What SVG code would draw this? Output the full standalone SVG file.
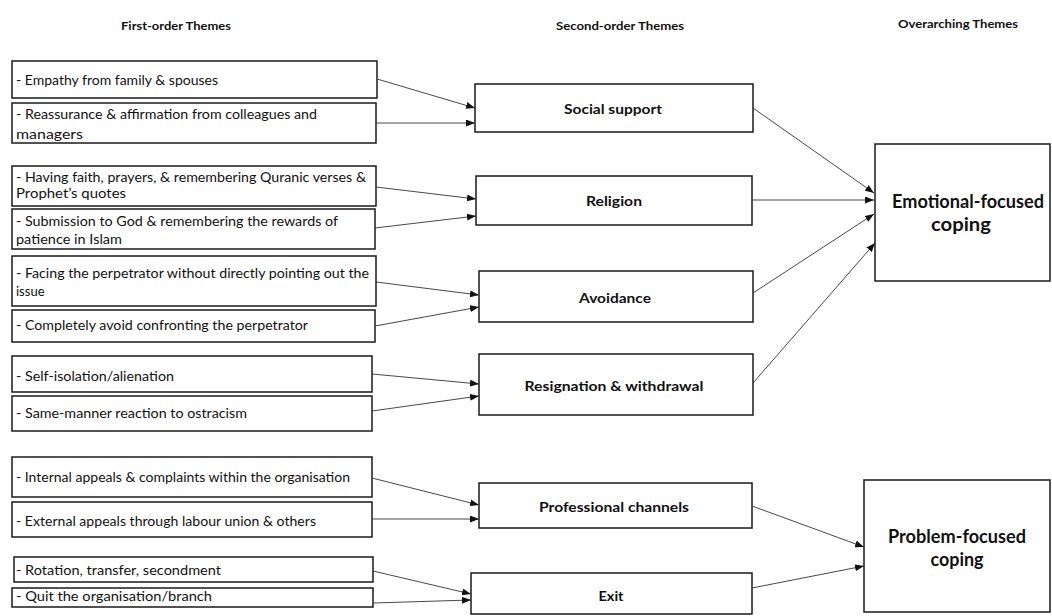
<svg xmlns="http://www.w3.org/2000/svg" width="1052" height="616" viewBox="0 0 1052 616">
  <style>
    .box { fill: #ffffff; stroke: #1a1a1a; stroke-width: 1.5; }
    .hdr { font-family: Lato, "Open Sans", sans-serif; font-weight: bold; font-size: 12px; fill: #111; text-anchor: middle; }
    .item { font-family: Lato, "Noto Sans", sans-serif; font-size: 13px; fill: #111; }
    .mid { font-family: Lato, "Noto Sans", sans-serif; font-weight: bold; font-size: 14px; fill: #111; text-anchor: middle; }
    .top { font-family: Lato, "Noto Sans", sans-serif; font-weight: bold; font-size: 18px; fill: #111; text-anchor: middle; }
    .link { stroke: #333; stroke-width: 0.9; fill: none; marker-end: url(#arrow); }
  </style>
  <defs>
    <marker id="arrow" markerUnits="userSpaceOnUse" markerWidth="9" markerHeight="7" refX="9" refY="3.5" orient="auto">
      <path d="M0,0 L9,3.5 L0,7 Z" fill="#111"/>
    </marker>
  </defs>
  <rect width="1052" height="616" fill="#ffffff"/>

  <!-- column headings -->
  <g id="headers">
    <text class="hdr" x="176" y="30" textLength="110" lengthAdjust="spacingAndGlyphs">First-order Themes</text>
    <text class="hdr" x="620" y="30" textLength="128" lengthAdjust="spacingAndGlyphs">Second-order Themes</text>
    <text class="hdr" x="958" y="28" textLength="120" lengthAdjust="spacingAndGlyphs">Overarching Themes</text>
  </g>

  <!-- first-order themes -->
  <g id="n-empathy">
    <rect class="box" x="12" y="61" width="365" height="37"/>
    <text class="item" x="16" y="85" textLength="202" lengthAdjust="spacingAndGlyphs">- Empathy from family &amp; spouses</text>
  </g>
  <g id="n-reassurance">
    <rect class="box" x="12" y="103" width="364" height="40"/>
    <text class="item" x="16" y="119" textLength="301" lengthAdjust="spacingAndGlyphs">- Reassurance &amp; affirmation from colleagues and</text>
    <text class="item" x="16" y="139" textLength="67" lengthAdjust="spacingAndGlyphs">managers</text>
  </g>
  <g id="n-faith">
    <rect class="box" x="12" y="166" width="364" height="40"/>
    <text class="item" x="16" y="182" textLength="350" lengthAdjust="spacingAndGlyphs">- Having faith, prayers, &amp; remembering Quranic verses &amp;</text>
    <text class="item" x="16" y="198" textLength="110" lengthAdjust="spacingAndGlyphs">Prophet’s quotes</text>
  </g>
  <g id="n-submission">
    <rect class="box" x="12" y="209" width="363" height="40"/>
    <text class="item" x="16" y="226" textLength="322" lengthAdjust="spacingAndGlyphs">- Submission to God &amp; remembering the rewards of</text>
    <text class="item" x="16" y="244" textLength="106" lengthAdjust="spacingAndGlyphs">patience in Islam</text>
  </g>
  <g id="n-facing">
    <rect class="box" x="12" y="256" width="364" height="50"/>
    <text class="item" x="16" y="278" textLength="353" lengthAdjust="spacingAndGlyphs">- Facing the perpetrator without directly pointing out the</text>
    <text class="item" x="16" y="296">issue</text>
  </g>
  <g id="n-avoid">
    <rect class="box" x="12" y="310" width="363" height="32"/>
    <text class="item" x="16" y="330" textLength="292" lengthAdjust="spacingAndGlyphs">- Completely avoid confronting the perpetrator</text>
  </g>
  <g id="n-isolation">
    <rect class="box" x="12" y="356" width="360" height="36"/>
    <text class="item" x="16" y="381" textLength="158" lengthAdjust="spacingAndGlyphs">- Self-isolation/alienation</text>
  </g>
  <g id="n-same-manner">
    <rect class="box" x="12" y="396" width="360" height="35"/>
    <text class="item" x="16" y="418" textLength="231" lengthAdjust="spacingAndGlyphs">- Same-manner reaction to ostracism</text>
  </g>
  <g id="n-internal">
    <rect class="box" x="12" y="457" width="360" height="40"/>
    <text class="item" x="16" y="482" textLength="334" lengthAdjust="spacingAndGlyphs">- Internal appeals &amp; complaints within the organisation</text>
  </g>
  <g id="n-external">
    <rect class="box" x="12" y="502" width="360" height="35"/>
    <text class="item" x="16" y="526" textLength="300" lengthAdjust="spacingAndGlyphs">- External appeals through labour union &amp; others</text>
  </g>
  <g id="n-rotation">
    <rect class="box" x="14" y="557" width="359" height="25"/>
    <text class="item" x="16" y="575" textLength="205" lengthAdjust="spacingAndGlyphs">- Rotation, transfer, secondment</text>
  </g>
  <g id="n-quit">
    <rect class="box" x="12" y="588" width="361" height="19"/>
    <text class="item" x="16" y="601" textLength="196" lengthAdjust="spacingAndGlyphs">- Quit the organisation/branch</text>
  </g>

  <!-- second-order themes -->
  <g id="n-social">
    <rect class="box" x="475" y="84" width="278" height="48"/>
    <text class="mid" x="613" y="114" textLength="98" lengthAdjust="spacingAndGlyphs">Social support</text>
  </g>
  <g id="n-religion">
    <rect class="box" x="476" y="176" width="276" height="49"/>
    <text class="mid" x="614" y="206" textLength="56" lengthAdjust="spacingAndGlyphs">Religion</text>
  </g>
  <g id="n-avoidance">
    <rect class="box" x="479" y="271" width="274" height="51"/>
    <text class="mid" x="615" y="303" textLength="72" lengthAdjust="spacingAndGlyphs">Avoidance</text>
  </g>
  <g id="n-resignation">
    <rect class="box" x="479" y="354" width="274" height="61"/>
    <text class="mid" x="614" y="391" textLength="179" lengthAdjust="spacingAndGlyphs">Resignation &amp; withdrawal</text>
  </g>
  <g id="n-professional">
    <rect class="box" x="479" y="483" width="273" height="45"/>
    <text class="mid" x="614" y="512" textLength="150" lengthAdjust="spacingAndGlyphs">Professional channels</text>
  </g>
  <g id="n-exit">
    <rect class="box" x="471" y="573" width="281" height="41"/>
    <text class="mid" x="611" y="601" textLength="25" lengthAdjust="spacingAndGlyphs">Exit</text>
  </g>

  <!-- overarching themes -->
  <g id="n-emotional">
    <rect class="box" x="875" y="144" width="175" height="137"/>
    <text class="top" x="968" y="208" textLength="152" lengthAdjust="spacingAndGlyphs">Emotional-focused</text>
    <text class="top" x="961" y="231" textLength="60" lengthAdjust="spacingAndGlyphs">coping</text>
  </g>
  <g id="n-problem">
    <rect class="box" x="864" y="480" width="186" height="132"/>
    <text class="top" x="957" y="543" textLength="138" lengthAdjust="spacingAndGlyphs">Problem-focused</text>
    <text class="top" x="957" y="566" textLength="53" lengthAdjust="spacingAndGlyphs">coping</text>
  </g>

  <!-- connectors -->
  <g id="connectors">
    <line class="link" x1="377" y1="79" x2="475" y2="108"/>
    <line class="link" x1="376" y1="123" x2="475" y2="123"/>
    <line class="link" x1="376" y1="187" x2="476" y2="199"/>
    <line class="link" x1="375" y1="228" x2="476" y2="216"/>
    <line class="link" x1="376" y1="282" x2="479" y2="295"/>
    <line class="link" x1="375" y1="326" x2="479" y2="307"/>
    <line class="link" x1="372" y1="374" x2="479" y2="384"/>
    <line class="link" x1="372" y1="411" x2="479" y2="396"/>
    <line class="link" x1="372" y1="478" x2="479" y2="505"/>
    <line class="link" x1="372" y1="519" x2="479" y2="519"/>
    <line class="link" x1="373" y1="571" x2="471" y2="594"/>
    <line class="link" x1="373" y1="603" x2="471" y2="600"/>
    <line class="link" x1="753" y1="108" x2="874" y2="193"/>
    <line class="link" x1="752" y1="200" x2="874" y2="200"/>
    <line class="link" x1="753" y1="293" x2="874" y2="214"/>
    <line class="link" x1="753" y1="383" x2="875" y2="243"/>
    <line class="link" x1="752" y1="506" x2="864" y2="547"/>
    <line class="link" x1="752" y1="588" x2="864" y2="566"/>
  </g>
</svg>
